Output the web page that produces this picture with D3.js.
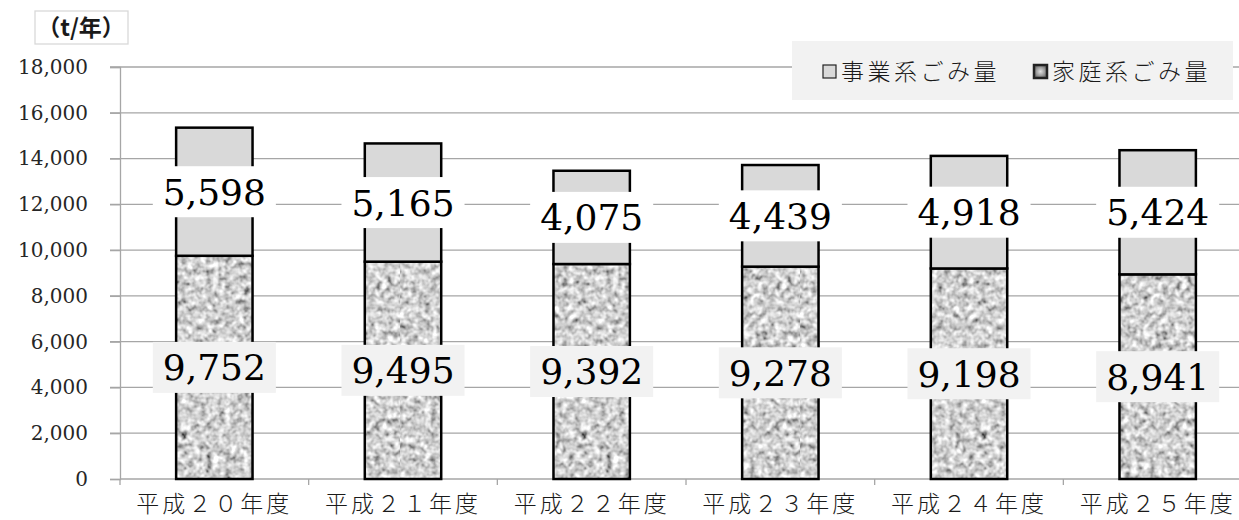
<!DOCTYPE html>
<html>
<head>
<meta charset="utf-8">
<script src="https://cdn.jsdelivr.net/npm/d3@7"></script>
<style>
  body { margin: 0; background: #fff; }
  svg { display: block; }
</style>
</head>
<body>
<div class="svg-content"></div>
<script>
// data
const years = ["平成２０年度", "平成２１年度", "平成２２年度", "平成２３年度", "平成２４年度", "平成２５年度"];
const household = [9752, 9495, 9392, 9278, 9198, 8941];   // 家庭系ごみ量
const business = [5598, 5165, 4075, 4439, 4918, 5424];    // 事業系ごみ量
const yTicks = [0, 2000, 4000, 6000, 8000, 10000, 12000, 14000, 16000, 18000];
const legendNames = ["事業系ごみ量", "家庭系ごみ量"];
const unitLabel = "（t/年）";

const svgWidth = 1239;
const svgHeight = 520;

const plotLeft = 120;
const plotTop = 67;
const plotBottom = 479;

let svg = d3.select(".svg-content")
            .append("svg")
            .attr("width", svgWidth)
            .attr("height", svgHeight);

// granite-like texture for the household part
const defs = svg.append("defs");
const filter = defs.append("filter")
                   .attr("id", "noise")
                   .attr("x", 0).attr("y", 0)
                   .attr("width", "100%").attr("height", "100%");
filter.append("feTurbulence")
      .attr("type", "fractalNoise")
      .attr("baseFrequency", "0.16")
      .attr("numOctaves", 2)
      .attr("seed", 11);
filter.append("feColorMatrix")
      .attr("type", "matrix")
      .attr("values", "0.34 0.33 0.33 0 0  0.34 0.33 0.33 0 0  0.34 0.33 0.33 0 0  0 0 0 0 1");
const ct = filter.append("feComponentTransfer");
["feFuncR", "feFuncG", "feFuncB"].forEach(f => {
  ct.append(f).attr("type", "linear").attr("slope", 2.3).attr("intercept", -0.52);
});

defs.append("pattern")
    .attr("id", "granite")
    .attr("patternUnits", "userSpaceOnUse")
    .attr("width", 400)
    .attr("height", 520)
    .append("rect")
    .attr("width", 400)
    .attr("height", 520)
    .attr("filter", "url(#noise)");

const legendGrad = defs.append("radialGradient").attr("id", "legGrad");
legendGrad.append("stop").attr("offset", "0%").attr("stop-color", "#e0e0e0");
legendGrad.append("stop").attr("offset", "100%").attr("stop-color", "#777");

const xScale = d3.scaleBand()
                 .domain(years)
                 .range([plotLeft, plotLeft + 6 * 188.67])
                 .paddingInner(0.595)
                 .paddingOuter(0.2975);

const yScale = d3.scaleLinear()
                 .domain([0, 18000])
                 .range([plotBottom, plotTop]);

// gridlines
svg.append("g")
   .selectAll("line")
   .data(yTicks.filter(t => t > 0))
   .enter()
   .append("line")
   .attr("x1", plotLeft - 10)
   .attr("x2", svgWidth)
   .attr("y1", d => yScale(d))
   .attr("y2", d => yScale(d))
   .attr("stroke", "#a6a6a6")
   .attr("stroke-width", 1.3);

// y axis
const yAxis = d3.axisLeft(yScale)
                .tickValues(yTicks)
                .tickSize(10)
                .tickPadding(22)
                .tickFormat(d3.format(","));

svg.append("g")
   .attr("id", "y-axis")
   .attr("transform", "translate(" + plotLeft + ",0)")
   .call(yAxis)
   .call(g => g.select(".domain").attr("stroke", "#a6a6a6").attr("stroke-width", 1.3))
   .call(g => g.selectAll(".tick line").attr("stroke", "#a6a6a6").attr("stroke-width", 1.3))
   .call(g => g.selectAll(".tick text")
               .style("font-family", "'DejaVu Serif', serif")
               .style("font-size", "20px")
               .attr("fill", "#262626"));

// x axis
const xAxis = d3.axisBottom(xScale).tickSize(0).tickPadding(17);
const xg = svg.append("g")
   .attr("id", "x-axis")
   .attr("transform", "translate(0," + plotBottom + ")")
   .call(xAxis);
xg.select(".domain").remove();
xg.append("line")
  .attr("x1", plotLeft).attr("x2", svgWidth)
  .attr("stroke", "#a6a6a6").attr("stroke-width", 1.3);
xg.selectAll(".bound")
  .data(d3.range(years.length + 1))
  .enter()
  .append("line")
  .attr("x1", i => plotLeft + i * xScale.step())
  .attr("x2", i => plotLeft + i * xScale.step())
  .attr("y1", 0).attr("y2", 6)
  .attr("stroke", "#a6a6a6").attr("stroke-width", 1.3);
xg.selectAll(".tick text")
  .style("font-family", "'Noto Sans CJK JP'")
  .style("font-weight", 300)
  .style("font-size", "23px")
  .attr("letter-spacing", "3px")
  .attr("fill", "#1a1a1a");

// bars
const bars = svg.append("g");
years.forEach((yr, i) => {
  const x = xScale(yr);
  const w = xScale.bandwidth();
  bars.append("rect")
      .attr("x", x)
      .attr("y", yScale(household[i]))
      .attr("width", w)
      .attr("height", yScale(0) - yScale(household[i]))
      .attr("fill", "url(#granite)")
      .attr("stroke", "#000")
      .attr("stroke-width", 2.5);
  bars.append("rect")
      .attr("x", x)
      .attr("y", yScale(household[i] + business[i]))
      .attr("width", w)
      .attr("height", yScale(household[i]) - yScale(household[i] + business[i]))
      .attr("fill", "#d9d9d9")
      .attr("stroke", "#000")
      .attr("stroke-width", 2.5);
});

// data labels
const fmt = d3.format(",");
function addLabel(cx, cy, value, bg) {
  const g = svg.append("g");
  const rect = g.append("rect").attr("fill", bg);
  const t = g.append("text")
             .attr("x", cx)
             .attr("y", cy)
             .attr("dy", "0.36em")
             .attr("text-anchor", "middle")
             .attr("font-family", "DejaVu Serif")
             .attr("font-size", "36px")
             .attr("fill", "#000")
             .text(fmt(value));
  const bb = t.node().getBBox();
  rect.attr("x", cx - bb.width / 2 - 10)
      .attr("y", cy - 25.5)
      .attr("width", bb.width + 20)
      .attr("height", 51);
}
years.forEach((yr, i) => {
  const cx = xScale(yr) + xScale.bandwidth() / 2;
  addLabel(cx, yScale(household[i] + business[i] / 2), business[i], "#ffffff");
  addLabel(cx, yScale(household[i] / 2), household[i], "#f2f2f2");
});

// legend
const leg = svg.append("g");
leg.append("rect")
   .attr("x", 792).attr("y", 41)
   .attr("width", 441).attr("height", 59)
   .attr("fill", "#f2f2f2");
const legItems = [
  { name: legendNames[0], x: 823, fill: "#d9d9d9", sw: 1.2 },
  { name: legendNames[1], x: 1034, fill: "url(#legGrad)", sw: 2.5 }
];
legItems.forEach(d => {
  leg.append("rect")
     .attr("x", d.x).attr("y", 65)
     .attr("width", 13).attr("height", 13)
     .attr("fill", d.fill)
     .attr("stroke", "#222")
     .attr("stroke-width", d.sw);
  leg.append("text")
     .attr("x", d.x + 18).attr("y", 80)
     .attr("font-family", "Noto Sans CJK JP")
     .attr("font-weight", 300)
     .attr("font-size", "23px")
     .attr("letter-spacing", "3.5px")
     .attr("fill", "#1a1a1a")
     .text(d.name);
});

// unit label
svg.append("rect")
   .attr("x", 35).attr("y", 11)
   .attr("width", 93).attr("height", 33)
   .attr("fill", "#fff")
   .attr("stroke", "#d9d9d9")
   .attr("stroke-width", 1.3);
svg.append("text")
   .attr("x", 81).attr("y", 36)
   .attr("text-anchor", "middle")
   .attr("font-family", "Noto Sans CJK JP")
   .attr("font-weight", 700)
   .attr("font-size", "23px")
   .attr("fill", "#1a1a1a")
   .text(unitLabel);
</script>
</body>
</html>
